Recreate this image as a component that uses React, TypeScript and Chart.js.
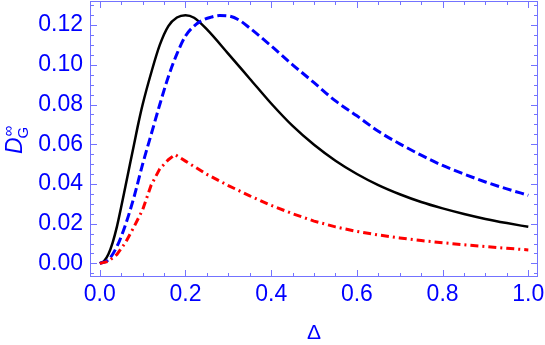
import React, { useEffect, useRef } from "react";
import { Chart, registerables } from "chart.js";

Chart.register(...registerables);

// ---- data ----
const blackDelta = [0, 0.01, 0.02, 0.03, 0.04, 0.05, 0.06, 0.07, 0.08, 0.09, 0.1, 0.12, 0.14, 0.16, 0.18, 0.2, 0.22, 0.25, 0.3, 0.35, 0.4, 0.45, 0.5, 0.55, 0.6, 0.65, 0.7, 0.75, 0.8, 0.85, 0.9, 0.95, 1.0];
const blackD = [0, 0.0012, 0.0046, 0.0105, 0.0185, 0.0285, 0.039, 0.0495, 0.06, 0.0705, 0.08, 0.096, 0.11, 0.1195, 0.1238, 0.125, 0.1237, 0.1178, 0.1055, 0.093, 0.0805, 0.0692, 0.0597, 0.0517, 0.045, 0.0394, 0.0348, 0.0309, 0.0277, 0.0249, 0.0224, 0.0203, 0.0184];

const blueDelta = [0, 0.02, 0.04, 0.06, 0.08, 0.1, 0.12, 0.14, 0.16, 0.18, 0.2, 0.22, 0.24, 0.26, 0.28, 0.3, 0.325, 0.35, 0.4, 0.45, 0.5, 0.55, 0.6, 0.65, 0.7, 0.75, 0.8, 0.85, 0.9, 0.95, 1.0];
const blueD = [0, 0.0018, 0.0085, 0.0195, 0.0335, 0.05, 0.065, 0.08, 0.094, 0.1055, 0.1145, 0.1195, 0.1225, 0.124, 0.1248, 0.1246, 0.1225, 0.1185, 0.1095, 0.1, 0.091, 0.0818, 0.0743, 0.0665, 0.0602, 0.0545, 0.0493, 0.045, 0.041, 0.0375, 0.0343];

const redDelta = [0, 0.02, 0.04, 0.06, 0.08, 0.1, 0.12, 0.14, 0.16, 0.1755, 0.2, 0.25, 0.3, 0.35, 0.4, 0.45, 0.5, 0.55, 0.6, 0.65, 0.7, 0.75, 0.8, 0.85, 0.9, 0.95, 1.0];
const redD = [0, 0.001, 0.0045, 0.0105, 0.0185, 0.027, 0.0395, 0.0476, 0.0522, 0.0548, 0.0515, 0.0448, 0.0392, 0.034, 0.0292, 0.025, 0.0213, 0.0184, 0.0161, 0.0143, 0.0128, 0.0115, 0.0104, 0.0094, 0.0085, 0.0076, 0.0068];

const xTickValues = [0, 0.2, 0.4, 0.6, 0.8, 1.0];
const yTickValues = [0, 0.02, 0.04, 0.06, 0.08, 0.1, 0.12];
const xMinorStep = 0.05;
const yMinorStep = 0.005;

const xTitle = "Δ";
const yTitleMain = "D";
const yTitleSup = "∞";
const yTitleSub = "G";

// ---- styles ----
const FRAME = "#7373ff";
const BLUE = "#0000ff";
const FONT = "'Liberation Sans', Arial, sans-serif";

const toPts = (xs: number[], ys: number[]) => xs.map((x, i) => ({ x, y: ys[i] }));

const framePlugin = {
  id: "mmaFrame",
  beforeDatasetsDraw(chart: any) {
    const { ctx, chartArea: a, scales } = chart;
    const xs = scales.x;
    const ys = scales.y;
    ctx.save();
    ctx.strokeStyle = FRAME;
    ctx.lineWidth = 1;
    ctx.strokeRect(a.left + 0.5, a.top + 0.5, a.right - a.left - 1, a.bottom - a.top - 1);
    const isMajor = (v: number, majors: number[]) => majors.some((m) => Math.abs(m - v) < 1e-9);
    ctx.beginPath();
    const xStart = Math.ceil(xs.min / xMinorStep) * xMinorStep;
    for (let v = xStart; v <= xs.max + 1e-9; v += xMinorStep) {
      const vv = Math.round(v * 1000) / 1000;
      const len = isMajor(vv, xTickValues) ? 7 : 4;
      const px = Math.round(xs.getPixelForValue(vv)) + 0.5;
      ctx.moveTo(px, a.bottom);
      ctx.lineTo(px, a.bottom - len);
      ctx.moveTo(px, a.top);
      ctx.lineTo(px, a.top + len);
    }
    const yStart = Math.ceil(ys.min / yMinorStep) * yMinorStep;
    for (let v = yStart; v <= ys.max + 1e-9; v += yMinorStep) {
      const vv = Math.round(v * 10000) / 10000;
      const len = isMajor(vv, yTickValues) ? 7 : 4;
      const py = Math.round(ys.getPixelForValue(vv)) + 0.5;
      ctx.moveTo(a.left, py);
      ctx.lineTo(a.left + len, py);
      ctx.moveTo(a.right, py);
      ctx.lineTo(a.right - len, py);
    }
    ctx.stroke();
    ctx.restore();
  },
  afterDraw(chart: any) {
    const { ctx, chartArea: a } = chart;
    ctx.save();
    ctx.fillStyle = BLUE;
    ctx.font = `21px ${FONT}`;
    ctx.textAlign = "center";
    ctx.textBaseline = "alphabetic";
    ctx.fillText(xTitle, (a.left + a.right) / 2, 339);
    ctx.translate(22, 154);
    ctx.rotate(-Math.PI / 2);
    ctx.textAlign = "left";
    ctx.font = `italic 23px ${FONT}`;
    ctx.fillText(yTitleMain, 0, 0);
    const w = ctx.measureText(yTitleMain).width;
    ctx.font = `15px ${FONT}`;
    ctx.fillText(yTitleSup, w + 1, -9);
    ctx.fillText(yTitleSub, w - 1, 6);
    ctx.restore();
  },
};

export default function App() {
  const ref = useRef<HTMLCanvasElement>(null);
  useEffect(() => {
    if (!ref.current) return;
    const chart = new Chart(ref.current, {
      type: "line",
      data: {
        datasets: [
          {
            data: toPts(redDelta, redD),
            borderColor: "#ff0000",
            borderWidth: 3,
            borderDash: [8, 4, 2, 4],
            pointRadius: 0,
            tension: 0,
            fill: false,
          },
          {
            data: toPts(blueDelta, blueD),
            borderColor: "#0000ff",
            borderWidth: 3,
            borderDash: [9, 4],
            pointRadius: 0,
            cubicInterpolationMode: "monotone",
            fill: false,
          },
          {
            data: toPts(blackDelta, blackD),
            borderColor: "#000000",
            borderWidth: 2.5,
            pointRadius: 0,
            cubicInterpolationMode: "monotone",
            fill: false,
          },
        ],
      },
      options: {
        animation: false,
        responsive: false,
        devicePixelRatio: 1,
        layout: { padding: { left: 0, right: 7, top: 1, bottom: 0 } },
        plugins: { legend: { display: false }, tooltip: { enabled: false } },
        scales: {
          x: {
            type: "linear",
            min: -0.02287,
            max: 1.02264,
            grid: { display: false, drawTicks: false },
            border: { display: false },
            afterBuildTicks: (s: any) => {
              s.ticks = xTickValues.map((v) => ({ value: v }));
            },
            afterFit: (s: any) => {
              s.height = 68;
              s.paddingLeft = 0;
              s.paddingRight = 0;
            },
            ticks: {
              color: BLUE,
              font: { family: FONT, size: 23 },
              padding: 4,
              maxRotation: 0,
              autoSkip: false,
              callback: (v: any) => Number(v).toFixed(1),
            },
          },
          y: {
            type: "linear",
            min: -0.00685,
            max: 0.13212,
            grid: { display: false, drawTicks: false },
            border: { display: false },
            afterBuildTicks: (s: any) => {
              s.ticks = yTickValues.map((v) => ({ value: v }));
            },
            afterFit: (s: any) => {
              s.width = 90;
              s.paddingTop = 0;
              s.paddingBottom = 0;
            },
            ticks: {
              color: BLUE,
              font: { family: FONT, size: 23 },
              padding: 7,
              autoSkip: false,
              callback: (v: any) => Number(v).toFixed(2),
            },
          },
        },
      },
      plugins: [framePlugin],
    });
    return () => chart.destroy();
  }, []);
  return (
    <div style={{ position: "fixed", left: 0, top: 0, width: 545, height: 345, background: "#fff" }}>
      <canvas ref={ref} width={545} height={345} style={{ display: "block" }} />
    </div>
  );
}
